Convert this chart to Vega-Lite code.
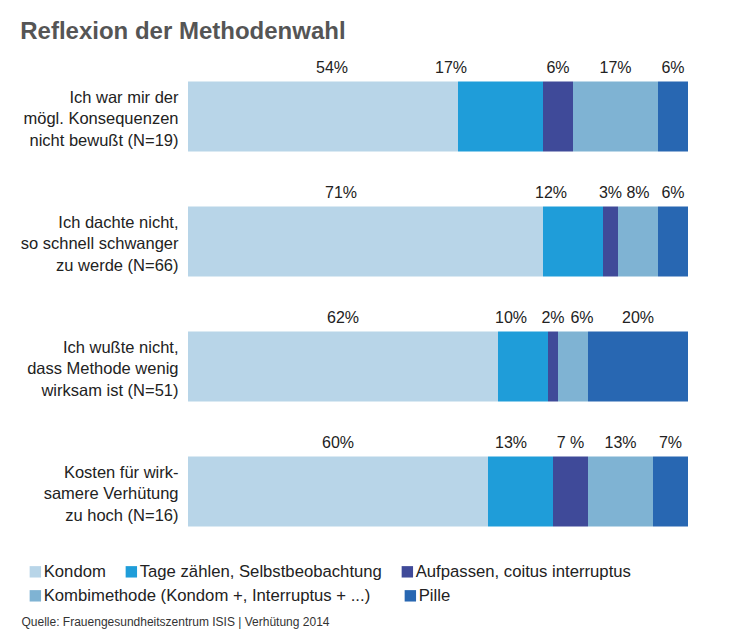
{
  "$schema": "https://vega.github.io/schema/vega-lite/v6.json",
  "width": 500,
  "height": 500,
  "padding": {"left": 20, "top": 20, "right": 20, "bottom": 4},
  "background": "white",
  "title": {
    "text": "Reflexion der Methodenwahl",
    "anchor": "start",
    "frame": "bounds",
    "fontSize": 24,
    "fontWeight": "bold",
    "color": "#555555",
    "font": "Liberation Sans",
    "offset": 10
  },
  "config": {"font": "Liberation Sans", "view": {"stroke": null}},
  "data": {
    "values": [
      {"q": "Ich war mir der|mögl. Konsequenzen|nicht bewußt (N=19)", "m": "Kondom", "k": 1, "v": 54, "label": "54%"},
      {"q": "Ich war mir der|mögl. Konsequenzen|nicht bewußt (N=19)", "m": "Tage zählen, Selbstbeobachtung", "k": 2, "v": 17, "label": "17%"},
      {"q": "Ich war mir der|mögl. Konsequenzen|nicht bewußt (N=19)", "m": "Aufpassen, coitus interruptus", "k": 3, "v": 6, "label": "6%"},
      {"q": "Ich war mir der|mögl. Konsequenzen|nicht bewußt (N=19)", "m": "Kombimethode (Kondom +, Interruptus + ...)", "k": 4, "v": 17, "label": "17%"},
      {"q": "Ich war mir der|mögl. Konsequenzen|nicht bewußt (N=19)", "m": "Pille", "k": 5, "v": 6, "label": "6%"},
      {"q": "Ich dachte nicht,|so schnell schwanger|zu werde (N=66)", "m": "Kondom", "k": 1, "v": 71, "label": "71%"},
      {"q": "Ich dachte nicht,|so schnell schwanger|zu werde (N=66)", "m": "Tage zählen, Selbstbeobachtung", "k": 2, "v": 12, "label": "12%"},
      {"q": "Ich dachte nicht,|so schnell schwanger|zu werde (N=66)", "m": "Aufpassen, coitus interruptus", "k": 3, "v": 3, "label": "3%"},
      {"q": "Ich dachte nicht,|so schnell schwanger|zu werde (N=66)", "m": "Kombimethode (Kondom +, Interruptus + ...)", "k": 4, "v": 8, "label": "8%"},
      {"q": "Ich dachte nicht,|so schnell schwanger|zu werde (N=66)", "m": "Pille", "k": 5, "v": 6, "label": "6%"},
      {"q": "Ich wußte nicht,|dass Methode wenig|wirksam ist (N=51)", "m": "Kondom", "k": 1, "v": 62, "label": "62%"},
      {"q": "Ich wußte nicht,|dass Methode wenig|wirksam ist (N=51)", "m": "Tage zählen, Selbstbeobachtung", "k": 2, "v": 10, "label": "10%"},
      {"q": "Ich wußte nicht,|dass Methode wenig|wirksam ist (N=51)", "m": "Aufpassen, coitus interruptus", "k": 3, "v": 2, "label": "2%"},
      {"q": "Ich wußte nicht,|dass Methode wenig|wirksam ist (N=51)", "m": "Kombimethode (Kondom +, Interruptus + ...)", "k": 4, "v": 6, "label": "6%"},
      {"q": "Ich wußte nicht,|dass Methode wenig|wirksam ist (N=51)", "m": "Pille", "k": 5, "v": 20, "label": "20%"},
      {"q": "Kosten für wirk-|samere Verhütung|zu hoch (N=16)", "m": "Kondom", "k": 1, "v": 60, "label": "60%"},
      {"q": "Kosten für wirk-|samere Verhütung|zu hoch (N=16)", "m": "Tage zählen, Selbstbeobachtung", "k": 2, "v": 13, "label": "13%"},
      {"q": "Kosten für wirk-|samere Verhütung|zu hoch (N=16)", "m": "Aufpassen, coitus interruptus", "k": 3, "v": 7, "label": "7 %"},
      {"q": "Kosten für wirk-|samere Verhütung|zu hoch (N=16)", "m": "Kombimethode (Kondom +, Interruptus + ...)", "k": 4, "v": 13, "label": "13%"},
      {"q": "Kosten für wirk-|samere Verhütung|zu hoch (N=16)", "m": "Pille", "k": 5, "v": 7, "label": "7%"}
    ]
  },
  "transform": [
    {"stack": "v", "groupby": ["q"], "sort": [{"field": "k", "order": "ascending"}], "as": ["x0", "x1"]},
    {"calculate": "(datum.x0 + datum.x1) / 2 + (datum.k == 1 && datum.v == 54 ? 1.8 : datum.k == 2 && datum.x0 == 54 ? -9.9 : datum.k == 1 && datum.v == 71 ? -4.9 : datum.k == 2 && datum.x0 == 71 ? -4.4 : datum.k == 2 && datum.x0 == 62 ? -2.4 : datum.k == 4 && datum.x0 == 74 ? 1.8 : datum.k == 2 && datum.x0 == 60 ? -1.9 : 0)", "as": "xm"}
  ],
  "encoding": {
    "y": {
      "field": "q", "type": "nominal", "sort": null,
      "scale": {"paddingInner": 0.44, "paddingOuter": 0.22},
      "axis": {
        "title": null, "domain": false, "ticks": false,
        "labelExpr": "split(datum.value, '|')",
        "labelFontSize": 16.5, "labelColor": "#222222", "labelPadding": 10,
        "labelLineHeight": 21.5, "labelLimit": 300, "labelAlign": "right", "labelBaseline": "middle",
        "labelOffset": -19
      }
    }
  },
  "layer": [
    {
      "transform": [{"filter": "datum.k <= 3"}],
      "mark": {"type": "bar"},
      "encoding": {
        "x": {
          "field": "x0", "type": "quantitative",
          "scale": {"domain": [0, 100], "nice": false},
          "axis": {
            "title": "Quelle: Frauengesundheitszentrum ISIS | Verhütung 2014",
            "labels": false, "ticks": false, "domain": false, "grid": false,
            "titleX": -167, "titleY": 71, "titleAlign": "left", "titleBaseline": "alphabetic",
            "titleFontSize": 12, "titleFontWeight": "normal", "titleColor": "#333333"
          }
        },
        "x2": {"field": "x1"},
        "color": {
          "field": "m", "type": "nominal",
          "scale": {
            "domain": ["Kondom", "Tage zählen, Selbstbeobachtung", "Aufpassen, coitus interruptus"],
            "range": ["#b8d5e8", "#1f9dd9", "#3f4a99"]
          },
          "legend": {
            "orient": "none", "legendX": -161, "legendY": 509,
            "columns": 3, "direction": "horizontal",
            "title": null, "symbolType": "square", "symbolSize": 130, "symbolStrokeWidth": 0,
            "labelFontSize": 16.7, "labelColor": "#222222", "labelOffset": 0,
            "columnPadding": 17, "labelLimit": 400, "padding": 0
          }
        }
      }
    },
    {
      "transform": [{"filter": "datum.k >= 4"}],
      "mark": {"type": "bar"},
      "encoding": {
        "x": {
          "field": "x0", "type": "quantitative",
          "axis": {
            "title": "Quelle: Frauengesundheitszentrum ISIS | Verhütung 2014",
            "labels": false, "ticks": false, "domain": false, "grid": false,
            "titleX": -167, "titleY": 71, "titleAlign": "left", "titleBaseline": "alphabetic",
            "titleFontSize": 12, "titleFontWeight": "normal", "titleColor": "#333333"
          }
        },
        "x2": {"field": "x1"},
        "fill": {
          "field": "m", "type": "nominal",
          "scale": {
            "domain": ["Kombimethode (Kondom +, Interruptus + ...)", "Pille"],
            "range": ["#7fb3d3", "#2867b2"]
          },
          "legend": {
            "orient": "none", "legendX": -161, "legendY": 533,
            "columns": 2, "direction": "horizontal",
            "title": null, "symbolType": "square", "symbolSize": 130, "symbolStrokeWidth": 0,
            "labelFontSize": 16.7, "labelColor": "#222222", "labelOffset": 0,
            "columnPadding": 31, "labelLimit": 400, "padding": 0
          }
        }
      }
    },
    {
      "mark": {"type": "text", "dy": -9, "baseline": "alphabetic", "fontSize": 16, "color": "#222222"},
      "encoding": {
        "y": {"field": "q", "type": "nominal", "sort": null, "bandPosition": 0},
        "x": {
          "field": "xm", "type": "quantitative",
          "axis": {
            "title": "Quelle: Frauengesundheitszentrum ISIS | Verhütung 2014",
            "labels": false, "ticks": false, "domain": false, "grid": false,
            "titleX": -167, "titleY": 71, "titleAlign": "left", "titleBaseline": "alphabetic",
            "titleFontSize": 12, "titleFontWeight": "normal", "titleColor": "#333333"
          }
        },
        "text": {"field": "label"}
      }
    }
  ]
}
